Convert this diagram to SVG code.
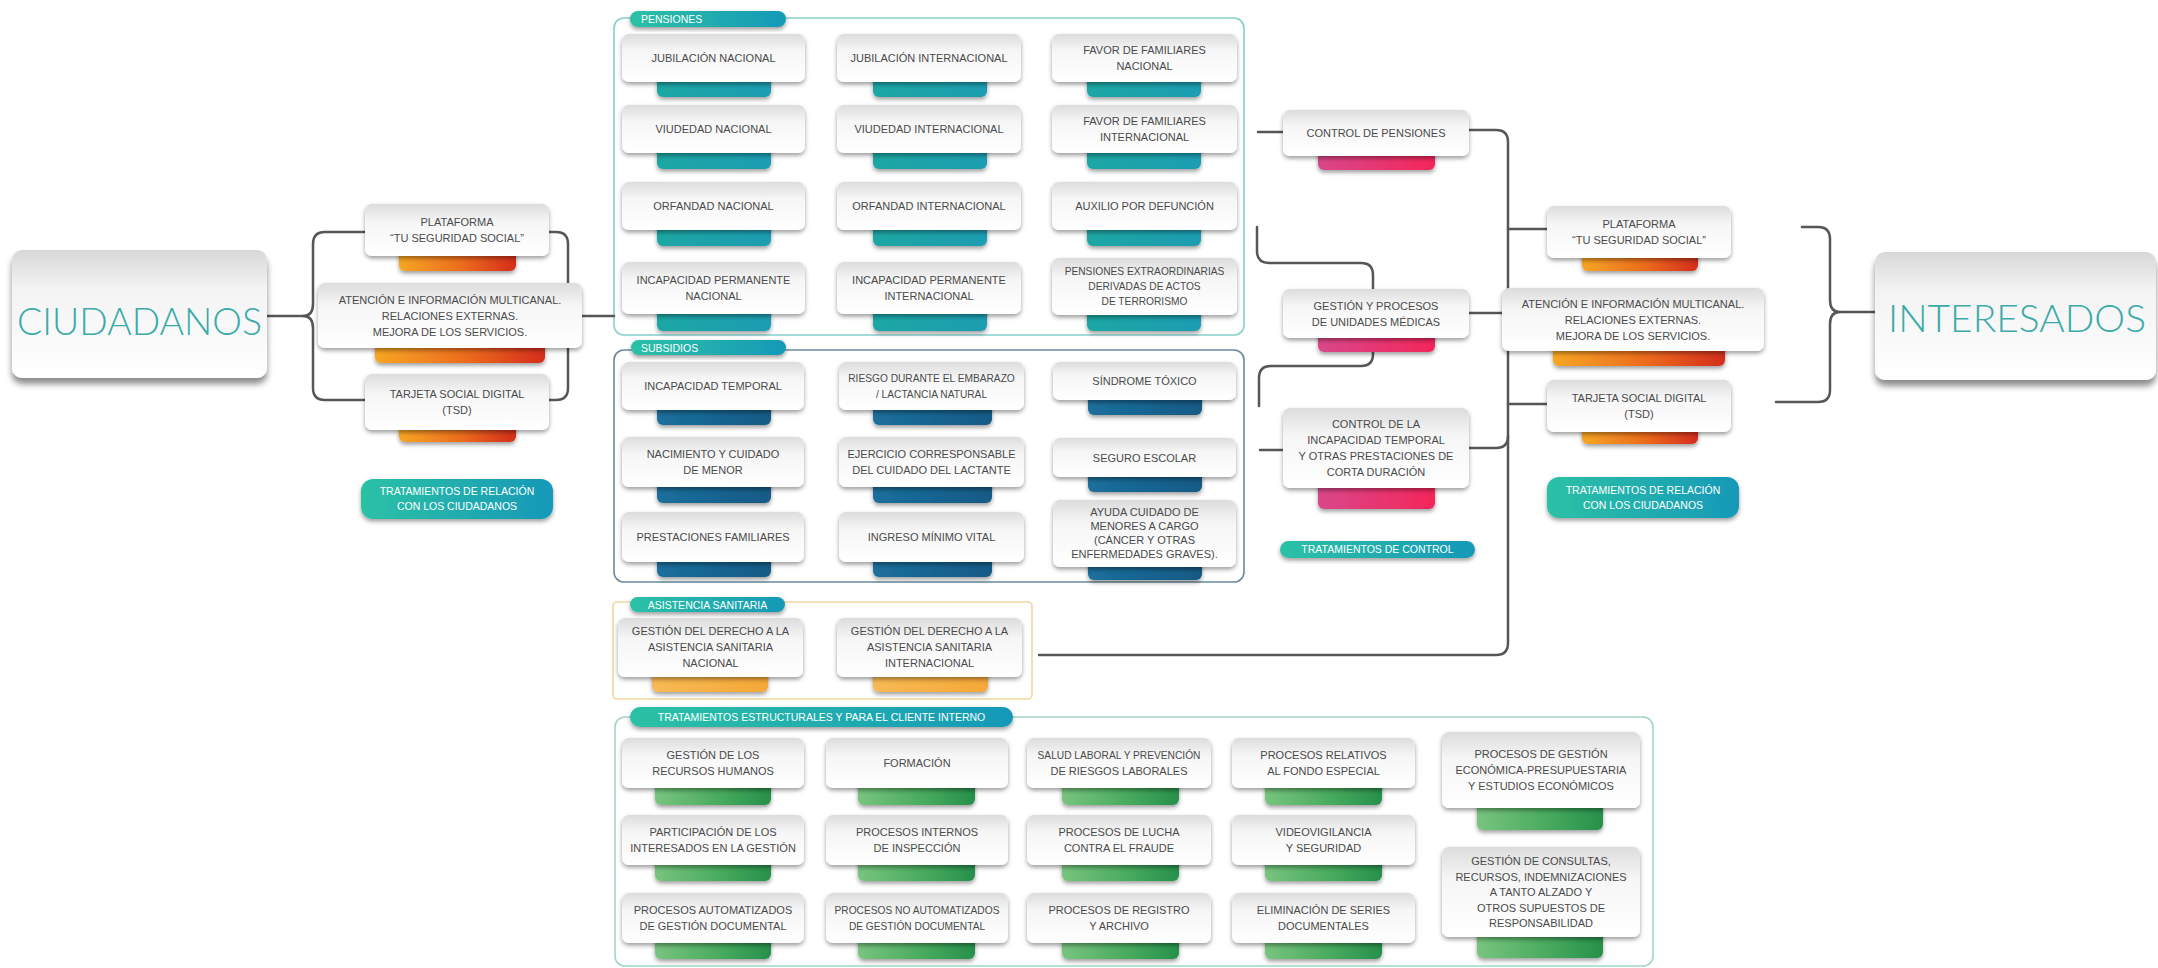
<svg xmlns="http://www.w3.org/2000/svg" width="2158" height="968" viewBox="0 0 2158 968">
<defs>
<filter id="sh" x="-10%" y="-20%" width="120%" height="150%"><feDropShadow dx="0" dy="2.5" stdDeviation="2" flood-color="#000" flood-opacity="0.38"/></filter>
<filter id="shb" x="-10%" y="-20%" width="120%" height="150%"><feDropShadow dx="0" dy="6" stdDeviation="3" flood-color="#000" flood-opacity="0.45"/></filter>
<linearGradient id="gBox" x1="0" y1="0" x2="0" y2="1"><stop offset="0" stop-color="#dcdcdc"/><stop offset="0.35" stop-color="#f6f6f6"/><stop offset="1" stop-color="#ffffff"/></linearGradient>
<linearGradient id="gBig" x1="0" y1="0" x2="0" y2="1"><stop offset="0" stop-color="#d8d8d8"/><stop offset="0.3" stop-color="#f3f3f3"/><stop offset="1" stop-color="#ffffff"/></linearGradient>
<linearGradient id="gT" x1="0" y1="0" x2="1" y2="0"><stop offset="0" stop-color="#1aa7a3"/><stop offset="1" stop-color="#1e9db2"/></linearGradient>
<linearGradient id="gB" x1="0" y1="0" x2="1" y2="0"><stop offset="0" stop-color="#1b6f9c"/><stop offset="1" stop-color="#135a86"/></linearGradient>
<linearGradient id="gO" x1="0" y1="0" x2="1" y2="0"><stop offset="0" stop-color="#f6a623"/><stop offset="0.55" stop-color="#ec6a1e"/><stop offset="1" stop-color="#d42d1e"/></linearGradient>
<linearGradient id="gP" x1="0" y1="0" x2="1" y2="0"><stop offset="0" stop-color="#d9478a"/><stop offset="1" stop-color="#f4265a"/></linearGradient>
<linearGradient id="gG" x1="0" y1="0" x2="1" y2="0"><stop offset="0" stop-color="#78c47e"/><stop offset="0.6" stop-color="#45a95c"/><stop offset="1" stop-color="#26904c"/></linearGradient>
<linearGradient id="gY" x1="0" y1="0" x2="1" y2="0"><stop offset="0" stop-color="#f8b955"/><stop offset="1" stop-color="#f4a836"/></linearGradient>
<linearGradient id="gBadge" x1="0" y1="0" x2="1" y2="0"><stop offset="0" stop-color="#2cc1a5"/><stop offset="1" stop-color="#1699b8"/></linearGradient>
<style>
.box{fill:url(#gBox);filter:url(#sh)}
.big{fill:url(#gBig);filter:url(#shb)}
.bar{filter:url(#sh)}
.bT{fill:url(#gT)}.bB{fill:url(#gB)}.bO{fill:url(#gO)}.bP{fill:url(#gP)}.bG{fill:url(#gG)}.bY{fill:url(#gY)}
.badge{fill:url(#gBadge);filter:url(#sh)}
.frame{fill:none;stroke-width:1.6}
.t{font-family:"Liberation Sans",Arial,sans-serif;font-size:11px;fill:#4a4a4a;text-anchor:middle}
.s{font-size:10.2px}
.w{font-family:"Liberation Sans",Arial,sans-serif;font-size:10.5px;fill:#ffffff}
.wc{text-anchor:middle}
.huge{font-family:Lato,"Liberation Sans",Arial,sans-serif;font-weight:300;font-size:38px;fill:#3aabaa;text-anchor:middle}
.ln{fill:none;stroke:#565656;stroke-width:2.5;stroke-linecap:round;stroke-linejoin:round}
</style>
</defs>
<rect width="2158" height="968" fill="#ffffff"/>

<!-- Section frames -->
<g id="sec-pensiones">
<rect class="frame" x="614" y="18" width="630" height="317" rx="10" stroke="#86d0cc"/>
<rect class="badge" x="630" y="11" width="156" height="16" rx="8"/>
<text class="w" x="641" y="23">PENSIONES</text>
</g>
<g id="sec-subsidios">
<rect class="frame" x="614" y="350" width="630" height="232" rx="10" stroke="#6a8a9c"/>
<rect class="badge" x="631" y="340" width="155" height="15" rx="7.5"/>
<text class="w" x="641" y="351.5">SUBSIDIOS</text>
</g>
<g id="sec-asistencia">
<rect class="frame" x="613" y="602" width="419" height="97" rx="4" stroke="#f4d6a2"/>
<rect class="badge" x="630" y="597" width="155" height="15" rx="7.5"/>
<text class="w wc" x="707.5" y="608.5">ASISTENCIA SANITARIA</text>
</g>
<g id="sec-estructurales">
<rect class="frame" x="615" y="717" width="1038" height="249" rx="10" stroke="#a3d5c6"/>
<rect class="badge" x="630" y="707" width="383" height="20" rx="10"/>
<text class="w wc" x="821.5" y="721">TRATAMIENTOS ESTRUCTURALES Y PARA EL CLIENTE INTERNO</text>
</g>

<!-- Connectors -->
<g id="connectors">
<path class="ln" d="M267 316 H303"/>
<path class="ln" d="M365 232 H325 Q313 232 313 244 V304 Q313 316 303 316 Q313 316 313 328 V388 Q313 400 325 400 H365"/>
<path class="ln" d="M549 232 H556 Q568 232 568 244 V388 Q568 400 556 400 H549"/>
<path class="ln" d="M568 316 H614"/>
<path class="ln" d="M1258 132 H1283"/>
<path class="ln" d="M1469 130 H1496 Q1508 130 1508 142 V643 Q1508 655 1496 655 H1039"/>
<path class="ln" d="M1508 229 H1547"/>
<path class="ln" d="M1508 404 H1547"/>
<path class="ln" d="M1469 313 H1502"/>
<path class="ln" d="M1469 448 H1496 Q1508 448 1508 436"/>
<path class="ln" d="M1260 450 H1283"/>
<path class="ln" d="M1257 227 V251 Q1257 263 1269 263 H1361 Q1373 263 1373 275 V289"/>
<path class="ln" d="M1373 352 V354 Q1373 366 1361 366 H1271 Q1259 366 1259 378 V406"/>
<path class="ln" d="M1802 227 H1818 Q1830 227 1830 239 V300 Q1830 312 1840 312 Q1830 312 1830 324 V390 Q1830 402 1818 402 H1776"/>
<path class="ln" d="M1840 312 H1875"/>
</g>

<!-- Main actors -->
<g id="ciudadanos">
<rect class="big" x="12" y="250" width="255" height="128" rx="10"/>
<text class="huge" x="139.5" y="335" textLength="245" lengthAdjust="spacingAndGlyphs">CIUDADANOS</text>
</g>
<g id="interesados">
<rect class="big" x="1875" y="252" width="281" height="128" rx="10"/>
<text class="huge" x="2017" y="332" textLength="258" lengthAdjust="spacingAndGlyphs">INTERESADOS</text>
</g>

<!-- Left relation cluster -->
<g id="l-plataforma">
<rect class="bar bO" x="399" y="245" width="117" height="26" rx="6"/>
<rect class="box" x="365" y="204" width="184" height="52" rx="7"/>
<text class="t" x="457" y="226">PLATAFORMA</text><text class="t" x="457" y="242">“TU SEGURIDAD SOCIAL”</text>
</g>
<g id="l-atencion">
<rect class="bar bO" x="375" y="335" width="170" height="28" rx="6"/>
<rect class="box" x="318" y="283" width="264" height="65" rx="7"/>
<text class="t" x="450" y="303.5">ATENCIÓN E INFORMACIÓN MULTICANAL.</text><text class="t" x="450" y="319.5">RELACIONES EXTERNAS.</text><text class="t" x="450" y="335.5">MEJORA DE LOS SERVICIOS.</text>
</g>
<g id="l-tarjeta">
<rect class="bar bO" x="399" y="415" width="117" height="27" rx="6"/>
<rect class="box" x="365" y="374" width="184" height="56" rx="7"/>
<text class="t" x="457" y="398">TARJETA SOCIAL DIGITAL</text><text class="t" x="457" y="414">(TSD)</text>
</g>
<g id="l-badge">
<rect class="badge" x="361" y="479" width="192" height="40" rx="12"/>
<text class="w wc" x="457" y="495">TRATAMIENTOS DE RELACIÓN</text><text class="w wc" x="457" y="510">CON LOS CIUDADANOS</text>
</g>

<!-- Pensiones -->
<g id="p-jub-nac"><rect class="bar bT" x="657" y="70" width="114" height="27" rx="6"/><rect class="box" x="622" y="34" width="183" height="48" rx="7"/><text class="t" x="713.5" y="62">JUBILACIÓN NACIONAL</text></g>
<g id="p-jub-int"><rect class="bar bT" x="873" y="70" width="114" height="27" rx="6"/><rect class="box" x="837" y="34" width="184" height="48" rx="7"/><text class="t" x="929" y="62">JUBILACIÓN INTERNACIONAL</text></g>
<g id="p-fav-nac"><rect class="bar bT" x="1087" y="70" width="114" height="27" rx="6"/><rect class="box" x="1052" y="34" width="185" height="48" rx="7"/><text class="t" x="1144.5" y="54">FAVOR DE FAMILIARES</text><text class="t" x="1144.5" y="70">NACIONAL</text></g>
<g id="p-viu-nac"><rect class="bar bT" x="657" y="141" width="114" height="28" rx="6"/><rect class="box" x="622" y="105" width="183" height="48" rx="7"/><text class="t" x="713.5" y="133">VIUDEDAD NACIONAL</text></g>
<g id="p-viu-int"><rect class="bar bT" x="873" y="141" width="114" height="28" rx="6"/><rect class="box" x="837" y="105" width="184" height="48" rx="7"/><text class="t" x="929" y="133">VIUDEDAD INTERNACIONAL</text></g>
<g id="p-fav-int"><rect class="bar bT" x="1087" y="141" width="114" height="28" rx="6"/><rect class="box" x="1052" y="105" width="185" height="48" rx="7"/><text class="t" x="1144.5" y="125">FAVOR DE FAMILIARES</text><text class="t" x="1144.5" y="141">INTERNACIONAL</text></g>
<g id="p-orf-nac"><rect class="bar bT" x="657" y="218" width="114" height="28" rx="6"/><rect class="box" x="622" y="182" width="183" height="48" rx="7"/><text class="t" x="713.5" y="210">ORFANDAD NACIONAL</text></g>
<g id="p-orf-int"><rect class="bar bT" x="873" y="218" width="114" height="28" rx="6"/><rect class="box" x="837" y="182" width="184" height="48" rx="7"/><text class="t" x="929" y="210">ORFANDAD INTERNACIONAL</text></g>
<g id="p-auxilio"><rect class="bar bT" x="1087" y="218" width="114" height="28" rx="6"/><rect class="box" x="1052" y="182" width="185" height="48" rx="7"/><text class="t" x="1144.5" y="210">AUXILIO POR DEFUNCIÓN</text></g>
<g id="p-inc-nac"><rect class="bar bT" x="657" y="303" width="114" height="28" rx="6"/><rect class="box" x="622" y="262" width="183" height="52" rx="7"/><text class="t" x="713.5" y="284">INCAPACIDAD PERMANENTE</text><text class="t" x="713.5" y="300">NACIONAL</text></g>
<g id="p-inc-int"><rect class="bar bT" x="873" y="303" width="114" height="28" rx="6"/><rect class="box" x="837" y="262" width="184" height="52" rx="7"/><text class="t" x="929" y="284">INCAPACIDAD PERMANENTE</text><text class="t" x="929" y="300">INTERNACIONAL</text></g>
<g id="p-extra"><rect class="bar bT" x="1087" y="303" width="114" height="28" rx="6"/><rect class="box" x="1052" y="258" width="185" height="57" rx="7"/><text class="t s" x="1144.5" y="275">PENSIONES EXTRAORDINARIAS</text><text class="t s" x="1144.5" y="290">DERIVADAS DE ACTOS</text><text class="t s" x="1144.5" y="305">DE TERRORISMO</text></g>

<!-- Subsidios -->
<g id="s-it"><rect class="bar bB" x="657" y="395" width="114" height="30" rx="6"/><rect class="box" x="622" y="362" width="182" height="48" rx="7"/><text class="t" x="713" y="390">INCAPACIDAD TEMPORAL</text></g>
<g id="s-riesgo"><rect class="bar bB" x="873" y="395" width="119" height="30" rx="6"/><rect class="box" x="839" y="362" width="185" height="48" rx="7"/><text class="t s" x="931.5" y="382">RIESGO DURANTE EL EMBARAZO</text><text class="t s" x="931.5" y="398">/ LACTANCIA NATURAL</text></g>
<g id="s-toxico"><rect class="bar bB" x="1088" y="388" width="114" height="27" rx="6"/><rect class="box" x="1053" y="362" width="183" height="38" rx="7"/><text class="t" x="1144.5" y="385">SÍNDROME TÓXICO</text></g>
<g id="s-nacim"><rect class="bar bB" x="657" y="472" width="114" height="31" rx="6"/><rect class="box" x="622" y="437" width="182" height="50" rx="7"/><text class="t" x="713" y="458">NACIMIENTO Y CUIDADO</text><text class="t" x="713" y="474">DE MENOR</text></g>
<g id="s-ejerc"><rect class="bar bB" x="873" y="472" width="119" height="31" rx="6"/><rect class="box" x="839" y="437" width="185" height="50" rx="7"/><text class="t" x="931.5" y="458">EJERCICIO CORRESPONSABLE</text><text class="t" x="931.5" y="474">DEL CUIDADO DEL LACTANTE</text></g>
<g id="s-seguro"><rect class="bar bB" x="1088" y="465" width="114" height="27" rx="6"/><rect class="box" x="1053" y="438" width="183" height="39" rx="7"/><text class="t" x="1144.5" y="462">SEGURO ESCOLAR</text></g>
<g id="s-prest"><rect class="bar bB" x="657" y="550" width="114" height="27" rx="6"/><rect class="box" x="622" y="512" width="182" height="50" rx="7"/><text class="t" x="713" y="541">PRESTACIONES FAMILIARES</text></g>
<g id="s-imv"><rect class="bar bB" x="873" y="550" width="119" height="27" rx="6"/><rect class="box" x="839" y="512" width="185" height="50" rx="7"/><text class="t" x="931.5" y="541">INGRESO MÍNIMO VITAL</text></g>
<g id="s-ayuda"><rect class="bar bB" x="1088" y="553" width="114" height="27" rx="6"/><rect class="box" x="1053" y="500" width="183" height="67" rx="7"/><text class="t" x="1144.5" y="516">AYUDA CUIDADO DE</text><text class="t" x="1144.5" y="530">MENORES A CARGO</text><text class="t" x="1144.5" y="544">(CÁNCER Y OTRAS</text><text class="t" x="1144.5" y="558">ENFERMEDADES GRAVES).</text></g>

<!-- Asistencia sanitaria -->
<g id="a-nac"><rect class="bar bY" x="652" y="665" width="116" height="27" rx="6"/><rect class="box" x="618" y="618" width="185" height="59" rx="7"/><text class="t" x="710.5" y="635">GESTIÓN DEL DERECHO A LA</text><text class="t" x="710.5" y="651">ASISTENCIA SANITARIA</text><text class="t" x="710.5" y="667">NACIONAL</text></g>
<g id="a-int"><rect class="bar bY" x="873" y="665" width="115" height="27" rx="6"/><rect class="box" x="837" y="618" width="185" height="59" rx="7"/><text class="t" x="929.5" y="635">GESTIÓN DEL DERECHO A LA</text><text class="t" x="929.5" y="651">ASISTENCIA SANITARIA</text><text class="t" x="929.5" y="667">INTERNACIONAL</text></g>

<!-- Estructurales -->
<g id="e-rrhh"><rect class="bar bG" x="655" y="778" width="116" height="27" rx="6"/><rect class="box" x="622" y="738" width="182" height="50" rx="7"/><text class="t" x="713" y="759">GESTIÓN DE LOS</text><text class="t" x="713" y="775">RECURSOS HUMANOS</text></g>
<g id="e-formacion"><rect class="bar bG" x="858" y="778" width="117" height="27" rx="6"/><rect class="box" x="826" y="738" width="182" height="50" rx="7"/><text class="t" x="917" y="767">FORMACIÓN</text></g>
<g id="e-salud"><rect class="bar bG" x="1062" y="778" width="117" height="27" rx="6"/><rect class="box" x="1027" y="738" width="184" height="50" rx="7"/><text class="t s" x="1119" y="759">SALUD LABORAL Y PREVENCIÓN</text><text class="t" x="1119" y="775">DE RIESGOS LABORALES</text></g>
<g id="e-fondo"><rect class="bar bG" x="1265" y="778" width="117" height="27" rx="6"/><rect class="box" x="1232" y="738" width="183" height="50" rx="7"/><text class="t" x="1323.5" y="759">PROCESOS RELATIVOS</text><text class="t" x="1323.5" y="775">AL FONDO ESPECIAL</text></g>
<g id="e-economica"><rect class="bar bG" x="1477" y="798" width="126" height="32" rx="6"/><rect class="box" x="1442" y="732" width="198" height="76" rx="7"/><text class="t" x="1541" y="758">PROCESOS DE GESTIÓN</text><text class="t" x="1541" y="774">ECONÓMICA-PRESUPUESTARIA</text><text class="t" x="1541" y="790">Y ESTUDIOS ECONÓMICOS</text></g>
<g id="e-particip"><rect class="bar bG" x="655" y="855" width="116" height="26" rx="6"/><rect class="box" x="622" y="815" width="182" height="50" rx="7"/><text class="t" x="713" y="836">PARTICIPACIÓN DE LOS</text><text class="t" x="713" y="852">INTERESADOS EN LA GESTIÓN</text></g>
<g id="e-inspeccion"><rect class="bar bG" x="858" y="855" width="117" height="26" rx="6"/><rect class="box" x="826" y="815" width="182" height="50" rx="7"/><text class="t" x="917" y="836">PROCESOS INTERNOS</text><text class="t" x="917" y="852">DE INSPECCIÓN</text></g>
<g id="e-fraude"><rect class="bar bG" x="1062" y="855" width="117" height="26" rx="6"/><rect class="box" x="1027" y="815" width="184" height="50" rx="7"/><text class="t" x="1119" y="836">PROCESOS DE LUCHA</text><text class="t" x="1119" y="852">CONTRA EL FRAUDE</text></g>
<g id="e-video"><rect class="bar bG" x="1265" y="855" width="117" height="26" rx="6"/><rect class="box" x="1232" y="815" width="183" height="50" rx="7"/><text class="t" x="1323.5" y="836">VIDEOVIGILANCIA</text><text class="t" x="1323.5" y="852">Y SEGURIDAD</text></g>
<g id="e-consultas"><rect class="bar bG" x="1477" y="927" width="126" height="31" rx="6"/><rect class="box" x="1442" y="847" width="198" height="90" rx="7"/><text class="t" x="1541" y="865">GESTIÓN DE CONSULTAS,</text><text class="t" x="1541" y="880.5">RECURSOS, INDEMNIZACIONES</text><text class="t" x="1541" y="896">A TANTO ALZADO Y</text><text class="t" x="1541" y="911.5">OTROS SUPUESTOS DE</text><text class="t" x="1541" y="927">RESPONSABILIDAD</text></g>
<g id="e-autom"><rect class="bar bG" x="655" y="933" width="116" height="26" rx="6"/><rect class="box" x="622" y="893" width="182" height="50" rx="7"/><text class="t" x="713" y="914">PROCESOS AUTOMATIZADOS</text><text class="t" x="713" y="930">DE GESTIÓN DOCUMENTAL</text></g>
<g id="e-noautom"><rect class="bar bG" x="858" y="933" width="117" height="26" rx="6"/><rect class="box" x="826" y="893" width="182" height="50" rx="7"/><text class="t s" x="917" y="914">PROCESOS NO AUTOMATIZADOS</text><text class="t s" x="917" y="930">DE GESTIÓN DOCUMENTAL</text></g>
<g id="e-registro"><rect class="bar bG" x="1062" y="933" width="117" height="26" rx="6"/><rect class="box" x="1027" y="893" width="184" height="50" rx="7"/><text class="t" x="1119" y="914">PROCESOS DE REGISTRO</text><text class="t" x="1119" y="930">Y ARCHIVO</text></g>
<g id="e-eliminacion"><rect class="bar bG" x="1265" y="933" width="117" height="26" rx="6"/><rect class="box" x="1232" y="893" width="183" height="50" rx="7"/><text class="t" x="1323.5" y="914">ELIMINACIÓN DE SERIES</text><text class="t" x="1323.5" y="930">DOCUMENTALES</text></g>

<!-- Control -->
<g id="c-pensiones"><rect class="bar bP" x="1318" y="145" width="117" height="25" rx="6"/><rect class="box" x="1283" y="110" width="186" height="46" rx="7"/><text class="t" x="1376" y="137">CONTROL DE PENSIONES</text></g>
<g id="c-medicas"><rect class="bar bP" x="1318" y="327" width="117" height="25" rx="6"/><rect class="box" x="1283" y="289" width="186" height="49" rx="7"/><text class="t" x="1376" y="309.5">GESTIÓN Y PROCESOS</text><text class="t" x="1376" y="325.5">DE UNIDADES MÉDICAS</text></g>
<g id="c-incapacidad"><rect class="bar bP" x="1318" y="478" width="117" height="31" rx="6"/><rect class="box" x="1283" y="408" width="186" height="80" rx="7"/><text class="t" x="1376" y="428">CONTROL DE LA</text><text class="t" x="1376" y="444">INCAPACIDAD TEMPORAL</text><text class="t" x="1376" y="460">Y OTRAS PRESTACIONES DE</text><text class="t" x="1376" y="476">CORTA DURACIÓN</text></g>
<g id="c-badge"><rect class="badge" x="1280" y="541" width="195" height="17" rx="8.5"/><text class="w wc" x="1377.5" y="553">TRATAMIENTOS DE CONTROL</text></g>

<!-- Right relation cluster -->
<g id="r-plataforma">
<rect class="bar bO" x="1582" y="245" width="116" height="26" rx="6"/>
<rect class="box" x="1547" y="206" width="184" height="52" rx="7"/>
<text class="t" x="1639" y="228">PLATAFORMA</text><text class="t" x="1639" y="244">“TU SEGURIDAD SOCIAL”</text>
</g>
<g id="r-atencion">
<rect class="bar bO" x="1553" y="338" width="172" height="28" rx="6"/>
<rect class="box" x="1502" y="288" width="262" height="63" rx="7"/>
<text class="t" x="1633" y="307.5">ATENCIÓN E INFORMACIÓN MULTICANAL.</text><text class="t" x="1633" y="323.5">RELACIONES EXTERNAS.</text><text class="t" x="1633" y="339.5">MEJORA DE LOS SERVICIOS.</text>
</g>
<g id="r-tarjeta">
<rect class="bar bO" x="1582" y="420" width="116" height="24" rx="6"/>
<rect class="box" x="1547" y="380" width="184" height="52" rx="7"/>
<text class="t" x="1639" y="402">TARJETA SOCIAL DIGITAL</text><text class="t" x="1639" y="418">(TSD)</text>
</g>
<g id="r-badge">
<rect class="badge" x="1547" y="477" width="192" height="41" rx="12"/>
<text class="w wc" x="1643" y="494">TRATAMIENTOS DE RELACIÓN</text><text class="w wc" x="1643" y="509">CON LOS CIUDADANOS</text>
</g>
</svg>
